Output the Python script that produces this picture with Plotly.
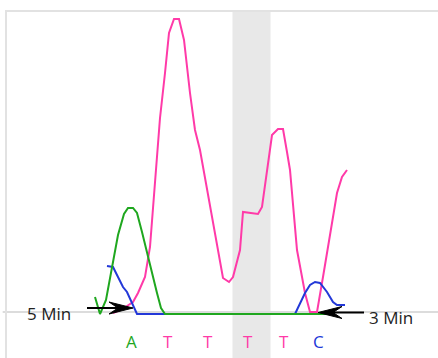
import plotly.graph_objects as go

# --- data (scan position, signal) ---
pink_x = [106, 113, 120, 126, 131, 138, 143, 145, 147, 150, 153, 158, 162, 167, 172, 177, 183, 188, 193, 216, 222, 226, 233, 236, 251, 255, 265, 271, 276, 280, 283, 290, 298, 303, 310, 316, 323, 330, 335, 340]
pink_y = [1, 4, 8, 12, 21, 37, 67, 94, 124, 164, 196, 241, 281, 295, 295, 274, 221, 184, 164, 36, 32, 37, 64, 102, 100, 107, 179, 185, 185, 162, 144, 64, 21, 2, 2, 37, 81, 121, 137, 144]

green_x = [88, 93, 99, 105, 111, 117, 121, 126, 130, 135, 140, 145, 150, 154, 158, 323]
green_y = [17, 0, 14, 47, 79, 100, 106, 106, 101, 82, 61, 39, 21, 6, 0, 0]

blue_x = [100, 106, 111, 116, 120, 125, 130, 288, 298, 303, 308, 313, 320, 326, 330, 338]
blue_y = [48, 47, 37, 27, 22, 11, 0, 0, 21, 29, 32, 31, 22, 12, 9, 9]

base_labels = ["A", "T", "T", "T", "T", "C"]
base_pos = [124, 161, 201, 241, 277, 311]

# time markers: label, label position, arrow tip, direction
marker_labels = ["5 Min", "3 Min"]
marker_label_pos = [(42, 1), (384, -3)]
marker_tips = [(126, 6), (311, 1.5)]
marker_dirs = [1, -1]  # +1 arrow points right, -1 points left

PINK = "#ff3aa8"
GREEN = "#1fa71f"
BLUE = "#2338d8"
base_colors = {"A": GREEN, "T": PINK, "C": BLUE}

fig = go.Figure()
fig.add_trace(go.Scatter(x=pink_x, y=pink_y, mode="lines", line=dict(color=PINK, width=2)))
fig.add_trace(go.Scatter(x=blue_x, y=blue_y, mode="lines", line=dict(color=BLUE, width=2)))
fig.add_trace(go.Scatter(x=green_x, y=green_y, mode="lines", line=dict(color=GREEN, width=2)))

# highlighted base
fig.add_shape(type="rect", xref="x", yref="paper", x0=225.5, x1=263.5, y0=0, y1=1,
              fillcolor="#e8e8e8", line_width=0, layer="below")
# baseline
fig.add_shape(type="line", xref="paper", yref="y", x0=-0.01, x1=1, y0=2, y1=2,
              line=dict(color="#dcdcdc", width=2), layer="below")

for b, p in zip(base_labels, base_pos):
    fig.add_annotation(x=p, y=-27, text=b, showarrow=False,
                       font=dict(family="Open Sans", size=17, color=base_colors[b]))

for lab, (lx, ly), (tx, ty), d in zip(marker_labels, marker_label_pos, marker_tips, marker_dirs):
    fig.add_annotation(x=lx, y=ly, text=lab, showarrow=False,
                       font=dict(family="Open Sans", size=17, color="#222"))
    # shaft
    fig.add_shape(type="line", xref="x", yref="y", xsizemode="pixel", ysizemode="pixel",
                  xanchor=tx, yanchor=ty, x0=-46 * d, x1=-12 * d, y0=0, y1=0,
                  line=dict(color="black", width=2))
    # stealth arrow head
    s = d
    path = f"M0,0 L{-24*s},6 L{-15*s},0 L{-24*s},-6 Z"
    fig.add_shape(type="path", xref="x", yref="y", xsizemode="pixel", ysizemode="pixel",
                  xanchor=tx, yanchor=ty, path=path,
                  fillcolor="black", line=dict(color="black", width=1))

fig.update_layout(
    width=438, height=358,
    margin=dict(l=7, r=0, t=12, b=0),
    paper_bgcolor="white", plot_bgcolor="white",
    showlegend=False,
    xaxis=dict(range=[0, 431], side="top", showline=True, linecolor="#e2e2e2", linewidth=2,
               showgrid=False, zeroline=False, showticklabels=False, ticks=""),
    yaxis=dict(range=[-44, 302], showline=True, linecolor="#e2e2e2", linewidth=2,
               showgrid=False, zeroline=False, showticklabels=False, ticks=""),
)

fig.write_html("out.html")
